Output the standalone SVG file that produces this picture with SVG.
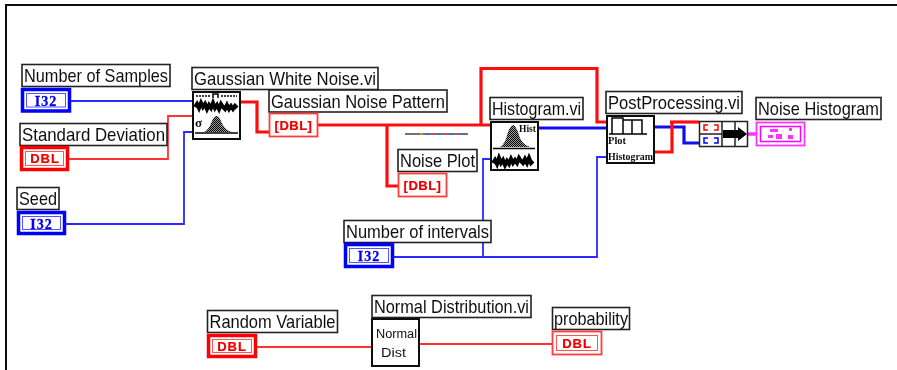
<svg xmlns="http://www.w3.org/2000/svg" width="897" height="370" viewBox="0 0 897 370">
<style>
.lb{fill:#fff;stroke:#222;stroke-width:1.6}
.t{font-family:"Liberation Sans",Arial,sans-serif;font-size:18.500px;fill:#111}
.w{fill:none}
.bt{stroke:#2a2aff;stroke-width:1.800}
.rt{stroke:#ff3030;stroke-width:1.800}
.bT{stroke:#1010ee;stroke-width:3.200}
.rT{stroke:#ff1010;stroke-width:3.200}
.ic{fill:#fff;stroke:#111;stroke-width:2}
.cb{fill:#fff;stroke:#0000ff;stroke-width:3.500}
.cr{fill:#fff;stroke:#ff0000;stroke-width:3.500}
.in{fill:none;stroke-width:1}
.ib{stroke:#5555ff}
.ir{stroke:#ff5555}
.ty{font-weight:bold;font-size:13px;text-anchor:middle}
.i32{font-family:"Liberation Serif",serif;font-size:14px;fill:#0000ee;stroke:#0000ee;stroke-width:.3;letter-spacing:1px}
.dbl{font-family:"Liberation Sans",Arial,sans-serif;fill:#ee0000;stroke:#ee0000;stroke-width:.2;letter-spacing:1px}
.thin{fill:#fff;stroke:#ff3c3c;stroke-width:1.800}
.nz{fill:none;stroke:#000;stroke-width:4}
.base{fill:none;stroke:#000;stroke-width:1.500}
.mini{font-family:"Liberation Serif",serif;font-size:10px;font-weight:bold;fill:#111}
.nd{font-family:"Liberation Sans",Arial,sans-serif;font-size:12px;fill:#111}
</style>
<defs>
<pattern id="dith" width="2" height="2" patternUnits="userSpaceOnUse"><rect width="2" height="2" fill="#999"/><rect width="1" height="1" fill="#000"/><rect x="1" y="1" width="1" height="1" fill="#000"/></pattern>
<filter id="soft" x="0" y="0" width="100%" height="100%"><feGaussianBlur stdDeviation="0.35"/></filter>
</defs>
<g filter="url(#soft)">
<rect width="897" height="370" fill="#fff"/>
<path id="frame" d="M6 370V5H897" fill="none" stroke="#111" stroke-width="2"/>

<g id="connectors">
<path class="w bt" d="M71 101H192"/>
<path class="w rt" d="M69 159H168V116H192"/>
<path class="w bt" d="M66 224H184V132H192"/>
<path class="w rT" d="M241 102H257V132H269"/>
<path class="w rT" d="M318 125H490"/>
<path class="w rT" d="M481 125V68.500H597V122H606"/>
<path class="w rT" d="M387 125V186H398"/>
<path class="w bt" d="M394 257H597V157H606"/>
<path class="w bt" d="M483 257V159H490"/>
<path class="w bT" d="M539 128H606"/>
<path class="w bT" d="M655 127H684V143H699"/>
<path class="w rT" d="M655 152H672V122"/>
<path class="w rT" d="M670 122H699"/>
<path class="w" stroke="#ff33ff" stroke-width="3.500" d="M748 134H756"/>
<path class="w rt" d="M257 347H371"/>
<path class="w rt" d="M420 344H552"/>
<path d="M405 134H468" fill="none" stroke="#444" stroke-width="1.500"/>
<path d="M420 134H468" fill="none" stroke="#e0a020" stroke-width="1.500" stroke-dasharray="3 9"/>
<path d="M426 134H468" fill="none" stroke="#2a70d0" stroke-width="1.500" stroke-dasharray="3 9"/>
<path d="M432 134H468" fill="none" stroke="#d03a60" stroke-width="1.500" stroke-dasharray="3 9"/>
</g>

<g id="number-of-samples">
<rect class="lb" x="22" y="64.500" width="148" height="22"/><text class="t" x="24" y="82" textLength="144" lengthAdjust="spacingAndGlyphs">Number of Samples</text>
<rect class="cb" x="22.500" y="89.500" width="47" height="21.500"/><rect class="in ib" x="26.500" y="93.500" width="39" height="13.500"/><text class="ty i32" x="46" y="105.500">I32</text>
</g>
<g id="standard-deviation">
<rect class="lb" x="20" y="123.500" width="147" height="22"/><text class="t" x="22" y="141" textLength="143" lengthAdjust="spacingAndGlyphs">Standard Deviation</text>
<rect class="cr" x="21.500" y="147.500" width="46" height="22"/><rect class="in ir" x="25.500" y="151.500" width="38" height="14"/><text class="ty dbl" x="45" y="163">DBL</text>
</g>
<g id="seed">
<rect class="lb" x="17" y="187.500" width="42" height="22"/><text class="t" x="19" y="205" textLength="38" lengthAdjust="spacingAndGlyphs">Seed</text>
<rect class="cb" x="18.500" y="212.500" width="46" height="21"/><rect class="in ib" x="22.500" y="216.500" width="38" height="13"/><text class="ty i32" x="41.500" y="228.500">I32</text>
</g>
<g id="gaussian-white-noise">
<rect class="lb" x="192" y="67.500" width="186" height="22"/><text class="t" x="194" y="85" textLength="182" lengthAdjust="spacingAndGlyphs">Gaussian White Noise.vi</text>
<rect class="ic" x="193" y="92" width="47" height="47"/>
<path d="M196 96H211M221 96H237" fill="none" stroke="#000" stroke-width="1.500" stroke-dasharray="2 1"/>
<path d="M213 98V94H218V98" fill="none" stroke="#000" stroke-width="1.500"/>
<path class="nz" d="M195 107l2-3 2 4 2-5 2 4 2-3 2 5 2-4 2 3 2-5 2 5 2-3 2 4 2-5 2 3 2 2 2-4 2 4 2-3 2 3 2-3 2 2"/>
<path d="M204 132 Q209 130 212 121 Q214 116 216.500 116 Q219 116 221 121 Q224 130 232 132Z" fill="url(#dith)"/>
<path class="base" d="M195 133H238"/>
<text class="mini" x="195" y="127" style="font-size:13px">σ</text>
</g>
<g id="gaussian-noise-pattern">
<rect class="lb" x="269" y="90" width="178" height="22"/><text class="t" x="271" y="107.500" textLength="174" lengthAdjust="spacingAndGlyphs">Gaussian Noise Pattern</text>
<rect class="thin" x="269.500" y="113.500" width="48" height="23"/><text class="ty dbl" x="293.500" y="130" style="letter-spacing:.5px">[DBL]</text>
</g>
<g id="noise-plot">
<rect class="lb" x="398" y="149.500" width="79" height="22"/><text class="t" x="400" y="167" textLength="75" lengthAdjust="spacingAndGlyphs">Noise Plot</text>
<rect class="thin" x="398.500" y="173.500" width="48" height="23"/><text class="ty dbl" x="422.500" y="190" style="letter-spacing:.5px">[DBL]</text>
</g>
<g id="number-of-intervals">
<rect class="lb" x="344" y="220.500" width="147" height="22"/><text class="t" x="346" y="238" textLength="143" lengthAdjust="spacingAndGlyphs">Number of intervals</text>
<rect class="cb" x="345.500" y="244.500" width="47" height="22"/><rect class="in ib" x="349.500" y="248.500" width="39" height="14"/><text class="ty i32" x="369" y="261">I32</text>
</g>
<g id="histogram">
<rect class="lb" x="490" y="97.500" width="93" height="22"/><text class="t" x="492" y="115" textLength="89" lengthAdjust="spacingAndGlyphs">Histogram.vi</text>
<rect class="ic" x="491" y="122" width="47" height="48"/>
<path d="M500 147 Q505 145 508 132 Q511 125 513 125 Q515 125 518 132 Q521 145 530 147Z" fill="url(#dith)"/>
<path class="base" d="M493 148.500H535"/>
<path class="nz" d="M493 163l2-3 2 4 2-6 2 5 2-3 2 5 2-4 2 3 2-5 2 4 2-3 2 3 2-5 2 3 2 2 2-4 2 4 2-5 2 5 2-2"/>
<text class="mini" x="519" y="132" style="font-size:9.500px" textLength="17" lengthAdjust="spacingAndGlyphs">Hist</text>
</g>
<g id="post-processing">
<rect class="lb" x="606" y="91.500" width="136" height="22"/><text class="t" x="608" y="109" textLength="132" lengthAdjust="spacingAndGlyphs">PostProcessing.vi</text>
<rect class="ic" x="607" y="116" width="47" height="47"/>
<path d="M609 134H647M612 134V118H623V134M623 120H642V134M632 120V134" fill="none" stroke="#000" stroke-width="1.500"/>
<text class="mini" x="608" y="144" style="font-size:10px" textLength="18" lengthAdjust="spacingAndGlyphs">Plot</text>
<text class="mini" x="608" y="160" style="font-size:10px" textLength="45" lengthAdjust="spacingAndGlyphs">Histogram</text>
</g>
<g id="bundle">
<rect x="699.500" y="121.500" width="48" height="25" fill="#fff" stroke="#222" stroke-width="1.500"/>
<path d="M699 134H722M722 121V147M735 121V147" fill="none" stroke="#222" stroke-width="1.500"/>
<path d="M708 125H704V130H708M714 125H718V130H714" fill="none" stroke="#ff0000" stroke-width="1.500"/>
<path d="M708 138H704V143H708M714 138H718V143H714" fill="none" stroke="#0000ff" stroke-width="1.500"/>
<path d="M723 130H738V127L747 134L738 141V138H723Z" fill="#000"/>
</g>
<g id="noise-histogram">
<rect class="lb" x="756" y="97.500" width="125" height="22"/><text class="t" x="758" y="115" textLength="121" lengthAdjust="spacingAndGlyphs">Noise Histogram</text>
<rect x="756.500" y="122.500" width="48" height="23" fill="#fff" stroke="#ff33ff" stroke-width="1.800"/>
<rect x="760.500" y="126.500" width="40" height="15" fill="none" stroke="#ff00ff" stroke-width="1.500"/>
<path d="M770 129h8v3h-8zM780 129.500h5M789 128h3v3h-3zM768 135h5v3h-5zM776 134h6v5h-6zM788 135h5v4h-5z" fill="#ff33ff"/>
</g>
<g id="random-variable">
<rect class="lb" x="207.500" y="310.500" width="130" height="22"/><text class="t" x="209.500" y="328" textLength="126" lengthAdjust="spacingAndGlyphs">Random Variable</text>
<rect class="cr" x="208.500" y="335.500" width="47" height="21"/><rect class="in ir" x="212.500" y="339.500" width="39" height="13"/><text class="ty dbl" x="232" y="351">DBL</text>
</g>
<g id="normal-distribution">
<rect class="lb" x="372" y="295.500" width="159" height="22"/><text class="t" x="374" y="313" textLength="155" lengthAdjust="spacingAndGlyphs">Normal Distribution.vi</text>
<rect class="ic" x="372" y="319" width="47" height="47"/>
<text class="nd" x="376" y="338" textLength="41" lengthAdjust="spacingAndGlyphs">Normal</text>
<text class="nd" x="381" y="357" textLength="25" lengthAdjust="spacingAndGlyphs">Dist</text>
</g>
<g id="probability">
<rect class="lb" x="552.500" y="307.500" width="77" height="22"/><text class="t" x="554" y="325" textLength="74" lengthAdjust="spacingAndGlyphs">probability</text>
<rect class="thin" x="552.500" y="331.500" width="49" height="23"/><rect class="in ir" x="556.500" y="335.500" width="41" height="15"/><text class="ty dbl" x="577" y="348">DBL</text>
</g>
</g>
</svg>
